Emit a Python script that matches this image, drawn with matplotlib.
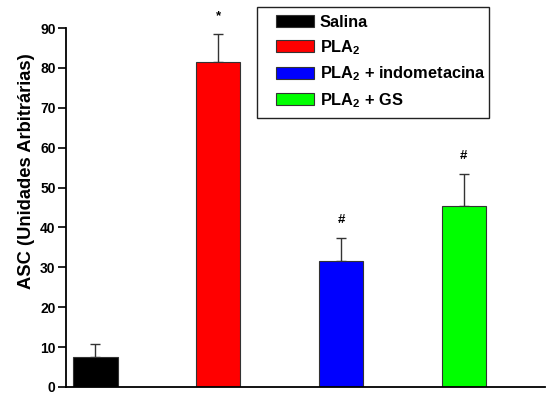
import matplotlib
matplotlib.use("Agg")
import matplotlib.pyplot as plt
from matplotlib.patches import Patch, Rectangle

plt.rcParams['font.family'] = ['Liberation Sans', 'DejaVu Sans']
plt.rcParams['font.weight'] = 'bold'
plt.rcParams['mathtext.fontset'] = 'custom'
plt.rcParams['mathtext.rm'] = 'Liberation Sans:bold'
plt.rcParams['mathtext.it'] = 'Liberation Sans:bold'
plt.rcParams['mathtext.bf'] = 'Liberation Sans:bold'

categories = ['Salina', 'PLA$_2$', 'PLA$_2$ + indometacina', 'PLA$_2$ + GS']
values = [7.4, 81.6, 31.7, 45.5]
errors = [3.4, 6.8, 5.7, 7.8]
marks = ['', '*', '#', '#']
colors = ['#000000', '#ff0000', '#0000ff', '#00ff00']
yticks = [0, 10, 20, 30, 40, 50, 60, 70, 80, 90]

W, H = 546, 394
fig = plt.figure(figsize=(W / 100, H / 100), dpi=100)
ax = fig.add_axes([66 / W, 1 - 387 / H, 479 / W, 359 / H])

x = [1, 2, 3, 4]
ax.bar(x, values, width=0.36, color=colors, edgecolor='#333333', linewidth=0.8, zorder=2)
ax.errorbar(x, values, yerr=[[0] * 4, errors], fmt='none', ecolor='#333333',
            elinewidth=1.0, capsize=3.5, capthick=1.0, zorder=1)
for xi, v, e, m in zip(x, values, errors, marks):
    if m:
        ax.text(xi, v + e + 3.0, m, ha='center', va='bottom', fontsize=9.5, fontweight='bold')

ax.set_xlim(0.76, 4.66)
ax.set_ylim(0, 90)
ax.set_yticks(yticks)
ax.set_xticks([])
ax.tick_params(axis='y', direction='out', length=6, width=1.2, labelsize=10, pad=1.5)
for lab in ax.get_yticklabels():
    lab.set_fontweight('bold')
ax.spines['top'].set_visible(False)
ax.spines['right'].set_visible(False)
ax.spines['left'].set_linewidth(1.3)
ax.spines['bottom'].set_linewidth(1.3)
ax.set_ylabel('ASC (Unidades Arbitrárias)', fontsize=13.2, fontweight='bold')
ax.yaxis.set_label_coords(-0.065, (387 - 171) / 359)

# legend frame
fig.patches.append(Rectangle((257 / W, 1 - 118 / H), 232 / W, 111 / H,
                             transform=fig.transFigure, facecolor='white',
                             edgecolor='#222222', linewidth=1.0, zorder=5))
handles = [Patch(facecolor=c, edgecolor='#333333', linewidth=0.8) for c in colors]
leg = fig.legend(handles, categories, loc='upper left',
                 bbox_to_anchor=(276 / W, 1 - 15 / H), bbox_transform=fig.transFigure,
                 frameon=False, fontsize=11.8,
                 handlelength=2.3, handleheight=0.78, handletextpad=0.36,
                 borderpad=0, labelspacing=0.48, borderaxespad=0)
leg.set_zorder(6)
for t in leg.get_texts():
    t.set_fontweight('bold')

fig.savefig('out.png', dpi=100)
